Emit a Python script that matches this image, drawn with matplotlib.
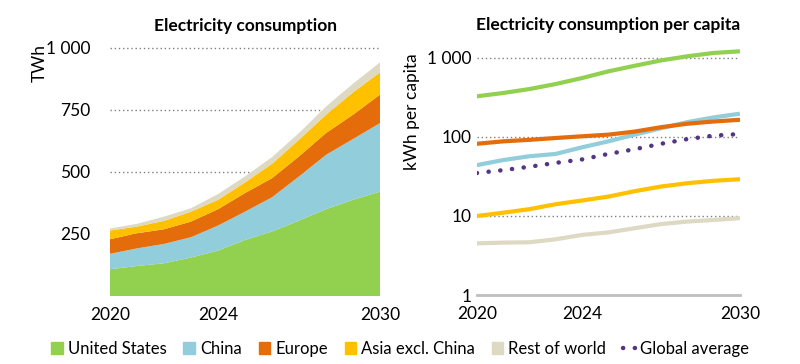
import numpy as np
import matplotlib
matplotlib.use("Agg")
import matplotlib.pyplot as plt
from matplotlib.patches import Patch
from matplotlib.lines import Line2D

plt.rcParams["font.family"] = ["Lato", "DejaVu Sans"]

years = list(range(2020, 2031))

# stacked consumption (TWh)
us_twh = [108, 121, 132, 155, 183, 226, 260, 304, 350, 388, 421]
china_twh = [62, 71, 78, 82, 101, 114, 138, 178, 219, 245, 276]
europe_twh = [59, 61, 59, 63, 66, 75, 77, 81, 88, 98, 115]
asia_twh = [35, 27, 34, 40, 38, 43, 58, 67, 74, 90, 90]
rest_twh = [8, 11, 17, 14, 23, 24, 27, 27, 33, 35, 40]

# per capita (kWh)
us_pc = [327, 360, 404, 468, 557, 677, 796, 930, 1050, 1157, 1213]
china_pc = [44, 51, 57, 61, 74, 88, 107, 129, 154, 177, 197]
europe_pc = [82, 88, 92, 97, 102, 107, 117, 133, 147, 157, 165]
asia_pc = [10, 11, 12.2, 14.1, 15.7, 17.6, 20.6, 23.6, 26, 27.9, 29.2]
rest_pc = [4.5, 4.6, 4.65, 5.07, 5.76, 6.2, 7.0, 7.9, 8.5, 8.9, 9.4]
global_pc = [35, 38, 42, 47, 52, 61, 70, 82, 94, 104, 109]

names = ["United States", "China", "Europe", "Asia excl. China", "Rest of world"]
colors = ["#92D050", "#92CDDC", "#E46C0A", "#FFC000", "#DDD9C3"]
purple = "#533584"
dots = (0, (0.05, 2.6))

fig = plt.figure(figsize=(8, 3.64), dpi=100)

# --- left: stacked area ---
ax1 = fig.add_axes([0.1375, 1 - 296 / 364, 0.3375, 248 / 364])
ax1.stackplot(years, us_twh, china_twh, europe_twh, asia_twh, rest_twh,
              colors=colors, linewidth=0)
ax1.set_ylim(0, 1000)
ax1.set_xlim(2020, 2030)
for v in [250, 500, 750, 1000]:
    ax1.axhline(v, color="#808080", linestyle=(0, (1, 2)), linewidth=1,
                zorder=0, clip_on=False)
ax1.set_yticks([250, 500, 750, 1000])
ax1.set_yticklabels(["250", "500", "750", "1 000"])
ax1.set_xticks([2020, 2024, 2030])
ax1.set_xticklabels(["2020", "2024", "2030"])
ax1.tick_params(length=0, labelsize=12.5, pad=8)
ax1.tick_params(axis="y", pad=14)
for s in ax1.spines.values():
    s.set_visible(False)
ax1.set_title("Electricity consumption", fontsize=12.5, fontweight="bold", pad=12)
fig.text(40 / 800, 1 - 63 / 364, "TWh", rotation=90, ha="center", va="center",
         fontsize=12.5)

# --- right: per capita, log scale ---
ax2 = fig.add_axes([0.596, 1 - 295 / 364, 0.329, 248.6 / 364])
ax2.set_yscale("log")
ax2.set_ylim(1, 1400)
ax2.set_xlim(2020, 2030)
for v in [10, 100, 1000]:
    ax2.axhline(v, color="#808080", linestyle=(0, (1, 2)), linewidth=1, zorder=0)
for vals, c in zip([us_pc, china_pc, europe_pc, asia_pc, rest_pc], colors):
    ax2.plot(years, vals, color=c, linewidth=3, solid_capstyle="butt")
ax2.plot(years, global_pc, color=purple, linewidth=3.2,
         linestyle=dots, dash_capstyle="round")
ax2.set_yticks([1, 10, 100, 1000])
ax2.set_yticklabels(["1", "10", "100", "1 000"])
ax2.minorticks_off()
ax2.set_xticks([2020, 2024, 2030])
ax2.set_xticklabels(["2020", "2024", "2030"])
ax2.tick_params(length=0, labelsize=12.5, pad=8)
ax2.tick_params(axis="y", pad=4)
for k, s in ax2.spines.items():
    s.set_visible(k == "bottom")
ax2.spines["bottom"].set_color("#BFBFBF")
ax2.spines["bottom"].set_linewidth(2)
ax2.set_title("Electricity consumption per capita", fontsize=12.5,
              fontweight="bold", pad=12)
fig.text(0.515, 1 - 112 / 364, "kWh per capita", rotation=90, ha="center",
         va="center", fontsize=12.5)

handles = [Patch(color=c, label=n) for c, n in zip(colors, names)]
handles.append(Line2D([0], [0], color=purple, linewidth=3.2,
                      linestyle=dots, dash_capstyle="round",
                      label="Global average"))
fig.legend(handles=handles, loc="center", bbox_to_anchor=(0.5, 1 - 349 / 364),
           ncol=6, frameon=False, fontsize=12, handlelength=0.7,
           handleheight=0.7, handletextpad=0.3, columnspacing=1.0)

fig.savefig("out.png", dpi=100)
